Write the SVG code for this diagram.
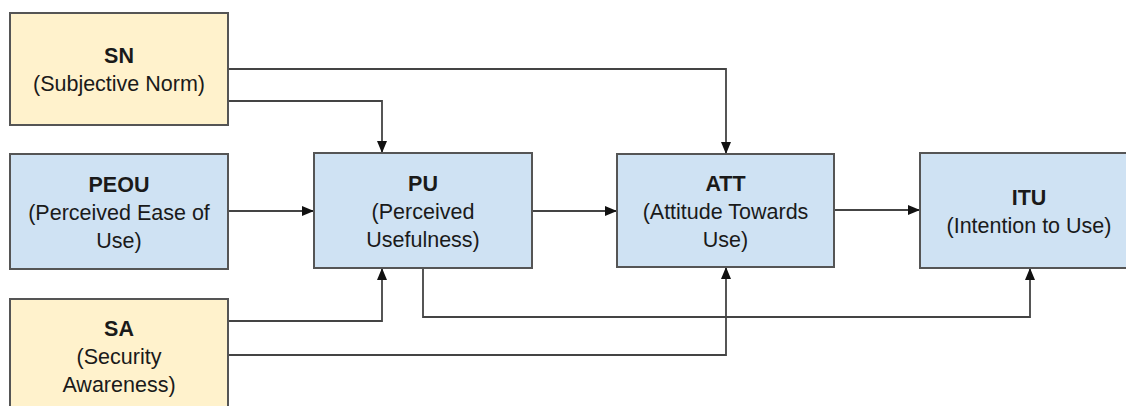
<svg xmlns="http://www.w3.org/2000/svg" width="1126" height="406" viewBox="0 0 1126 406">
<style>
.box{stroke:#555;stroke-width:2}
.y{fill:#fff2cc}
.b{fill:#cfe2f3}
text{font-family:"Liberation Sans",Arial,sans-serif;font-size:21.5px;fill:#1a1a1a;text-anchor:middle}
.t{font-weight:bold}
.c{fill:none;stroke:#444;stroke-width:1.8}
</style>
<defs>
<marker id="ah" markerUnits="userSpaceOnUse" markerWidth="12" markerHeight="10" refX="12" refY="5" orient="auto">
<path d="M0,0 L12,5 L0,10 z" fill="#111"/>
</marker>
</defs>
<rect width="1126" height="406" fill="#fff"/>
<g id="connectors">
<path class="c" d="M228,101 H382 V153" marker-end="url(#ah)"/>
<path class="c" d="M228,69 H726 V154" marker-end="url(#ah)"/>
<path class="c" d="M228,211 H314" marker-end="url(#ah)"/>
<path class="c" d="M532,211 H617" marker-end="url(#ah)"/>
<path class="c" d="M834,210 H920" marker-end="url(#ah)"/>
<path class="c" d="M228,321 H382 V268" marker-end="url(#ah)"/>
<path class="c" d="M228,355 H726 V267" marker-end="url(#ah)"/>
<path class="c" d="M423,268 V317 H1030 V268" marker-end="url(#ah)"/>
</g>
<g id="SN">
<rect class="box y" x="10" y="13" width="218" height="112"/>
<text class="t" x="119" y="63">SN</text>
<text x="119" y="91">(Subjective Norm)</text>
</g>
<g id="PEOU">
<rect class="box b" x="10" y="154" width="218" height="115"/>
<text class="t" x="119" y="192">PEOU</text>
<text x="119" y="220">(Perceived Ease of</text>
<text x="119" y="248">Use)</text>
</g>
<g id="PU">
<rect class="box b" x="314" y="153" width="218" height="115"/>
<text class="t" x="423" y="191">PU</text>
<text x="423" y="219">(Perceived</text>
<text x="423" y="247">Usefulness)</text>
</g>
<g id="ATT">
<rect class="box b" x="617" y="154" width="217" height="113"/>
<text class="t" x="725.5" y="191">ATT</text>
<text x="725.5" y="219">(Attitude Towards</text>
<text x="725.5" y="247">Use)</text>
</g>
<g id="ITU">
<rect class="box b" x="920" y="153" width="218" height="115"/>
<text class="t" x="1029" y="205">ITU</text>
<text x="1029" y="233">(Intention to Use)</text>
</g>
<g id="SA">
<rect class="box y" x="10" y="299" width="218" height="116"/>
<text class="t" x="119" y="336">SA</text>
<text x="119" y="364">(Security</text>
<text x="119" y="392">Awareness)</text>
</g>
</svg>
